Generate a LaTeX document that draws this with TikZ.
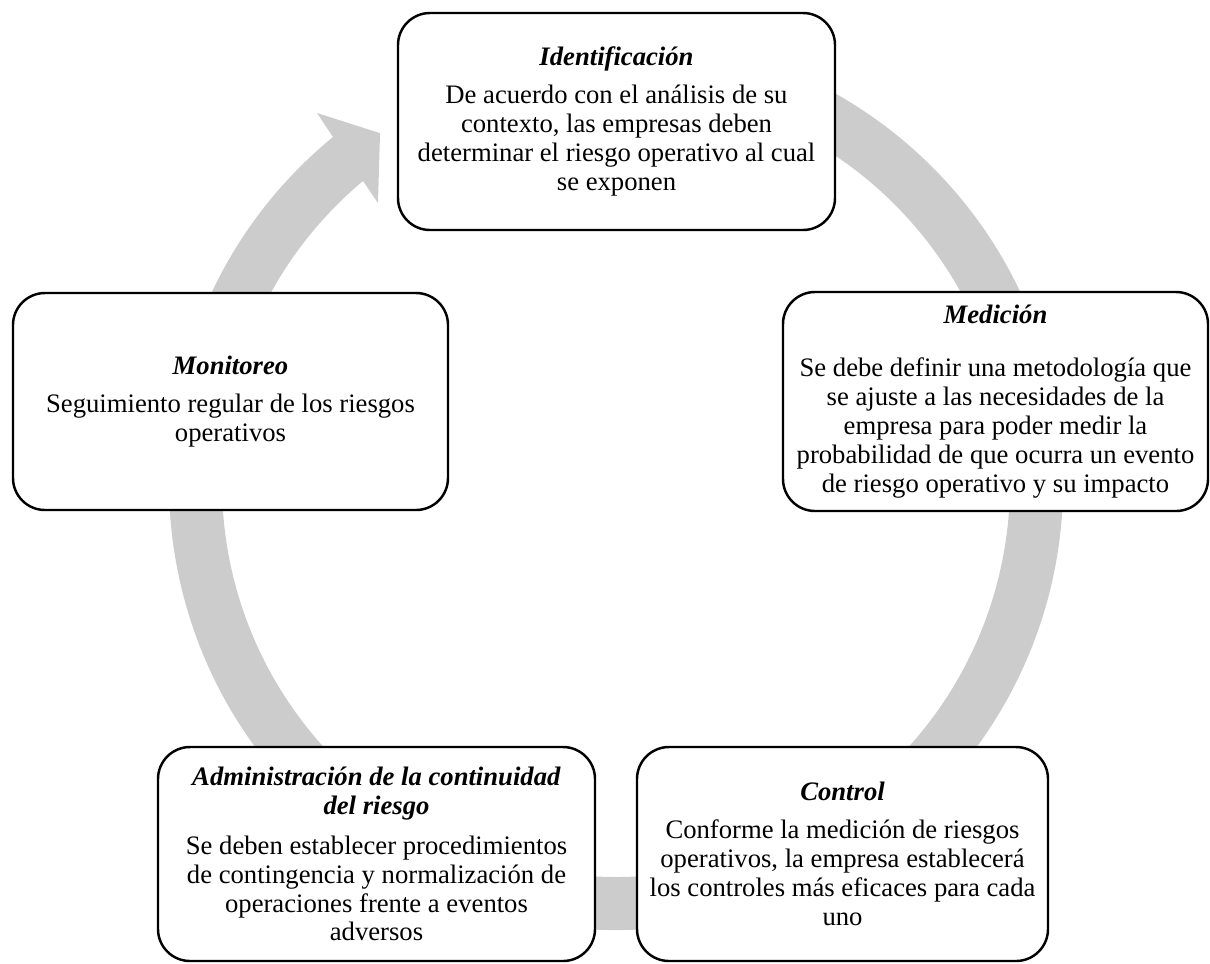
\documentclass[tikz,border=0pt]{standalone}
\usepackage{fontspec}
\setmainfont{Liberation Serif}
\usetikzlibrary{positioning}

\newcommand{\boxtitle}[1]{\textbf{\textit{#1}}}

\begin{document}
\begin{tikzpicture}[x=0.45pt, y=0.45pt,
    box/.style={draw, line width=1.1pt, rounded corners=14.4pt, fill=white,
      align=center, inner sep=0pt, font=\fontsize{12}{13}\selectfont},
    wh/.style 2 args={minimum width=#1*0.45pt, minimum height=#2*0.45pt}]
\useasboundingbox (0,0) rectangle (1210,-963);
\coordinate (c) at (616,-483);

% grey cycle arrow
\fill[gray!40] ([shift={(100:447)}]c) arc[start angle=100, end angle=-230.71, radius=447]
  -- ([shift={(-231.06:475.7)}]c) -- ([shift={(-236:422)}]c)
  -- ([shift={(-229.63:367.5)}]c) -- ([shift={(-230.05:394)}]c)
  arc[start angle=-230.05, end angle=100, radius=394] -- cycle;

% steps
\node[box, wh={437}{217}] (ident) at (616.5,-121.5) {\boxtitle{Identificación}\\[4pt]
  De acuerdo con el análisis de su\\ contexto, las empresas deben\\
  determinar el riesgo operativo al cual\\ se exponen};
\node[box, wh={425}{219}] (medic) at (995.5,-401.5) {\boxtitle{Medición}\\[10.8pt]
  Se debe definir una metodología que\\ se ajuste a las necesidades de la\\
  empresa para poder medir la\\ probabilidad de que ocurra un evento\\
  de riesgo operativo y su impacto};
\node[box, wh={411}{214}] (contr) at (842.5,-854) {\boxtitle{Control}\\[4pt]
  Conforme la medición de riesgos\\ operativos, la empresa establecerá\\
  los controles más eficaces para cada\\ uno};
\node[box, wh={437}{214}] (admin) at (376.5,-854) {\boxtitle{Administración de la continuidad}\\
  \boxtitle{del riesgo}\\[5pt]
  Se deben establecer procedimientos\\ de contingencia y normalización de\\
  operaciones frente a eventos\\ adversos};
\node[box, wh={435}{217}] (monit) at (230.5,-401.5) {\boxtitle{Monitoreo}\\[4pt]
  Seguimiento regular de los riesgos\\ operativos};

\end{tikzpicture}
\end{document}
